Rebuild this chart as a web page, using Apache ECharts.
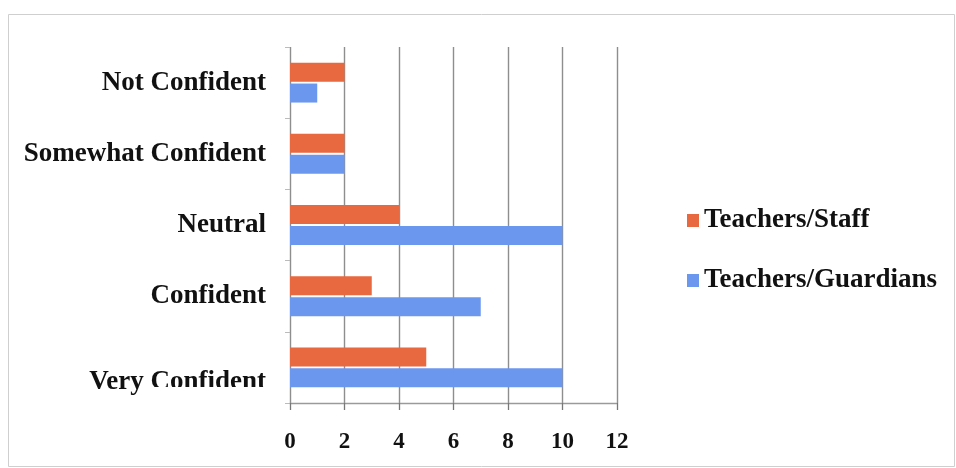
<!DOCTYPE html>
<html>
<head>
<meta charset="utf-8">
<script src="https://cdn.jsdelivr.net/npm/echarts@6/dist/echarts.min.js"></script>
<style>
  html, body { margin: 0; padding: 0; background: #fff; }
  #chart { width: 956px; height: 468px; }
</style>
</head>
<body>
<div id="chart"></div>
<script>
// Survey responses, listed bottom to top on the category axis
const categories = ['Very Confident', 'Confident', 'Neutral', 'Somewhat Confident', 'Not Confident'];
const staffValues = [5, 3, 4, 2, 2];
const guardianValues = [10, 7, 10, 2, 1];
const seriesNames = ['Teachers/Staff', 'Teachers/Guardians'];
const xTicks = [0, 2, 4, 6, 8, 10, 12];

const serif = '"Liberation Serif", "DejaVu Serif", serif';
const staffColor = '#E8683F';
const guardianColor = '#6C97EE';

const chart = echarts.init(document.getElementById('chart'));
chart.setOption({
  backgroundColor: '#fff',
  animation: false,
  grid: { left: 290, right: 339, top: 47, bottom: 65, containLabel: false },
  legend: {
    orient: 'vertical',
    left: 682,
    top: 202,
    icon: 'rect',
    itemWidth: 12,
    itemHeight: 13,
    itemGap: 33,
    data: [seriesNames[0], seriesNames[1]],
    textStyle: { fontFamily: serif, fontSize: 27, fontWeight: 'bold', color: '#111' }
  },
  xAxis: {
    type: 'value',
    min: xTicks[0],
    max: xTicks[xTicks.length - 1],
    interval: 2,
    axisLine: { show: true, lineStyle: { color: '#9a9a9a', width: 1.3 } },
    axisTick: { show: true, length: 7, lineStyle: { color: '#777', width: 1.3 } },
    splitLine: { show: true, lineStyle: { color: '#8e8e8e', width: 1.4 } },
    axisLabel: {
      margin: 28,
      fontFamily: serif,
      fontSize: 23,
      fontWeight: 'bold',
      color: '#111'
    }
  },
  yAxis: {
    type: 'category',
    data: categories,
    axisLine: { show: false },
    axisTick: { show: true, length: 5, lineStyle: { color: '#bbb', width: 1 } },
    splitLine: { show: false },
    axisLabel: {
      margin: 24,
      fontFamily: serif,
      fontSize: 27,
      fontWeight: 'bold',
      color: '#111',
      formatter: function (v) {
        return v === 'Very Confident' ? '{low|' + v + '}' : v;
      },
      rich: {
        low: {
          fontFamily: serif,
          fontSize: 27,
          fontWeight: 'bold',
          color: '#111',
          padding: [30, 0, 0, 0]
        }
      }
    }
  },
  series: [
    {
      name: seriesNames[0],
      type: 'bar',
      data: staffValues,
      barWidth: 19,
      barGap: '10%',
      itemStyle: { color: staffColor },
      z: 3
    },
    {
      name: seriesNames[1],
      type: 'bar',
      data: guardianValues,
      barWidth: 19,
      barGap: '10%',
      itemStyle: { color: guardianColor },
      z: 3
    }
  ],
  graphic: [
    {
      // lower edge of the plot box cuts off the bottom category label
      type: 'rect',
      left: 140,
      top: 387,
      shape: { width: 140, height: 20 },
      style: { fill: '#fff' },
      z: 100
    },
    {
      type: 'rect',
      left: 6,
      top: 12,
      shape: { width: 946, height: 452 },
      style: { fill: 'none', stroke: '#cfcfcf', lineWidth: 1 },
      z: 0
    }
  ]
});
</script>
</body>
</html>
